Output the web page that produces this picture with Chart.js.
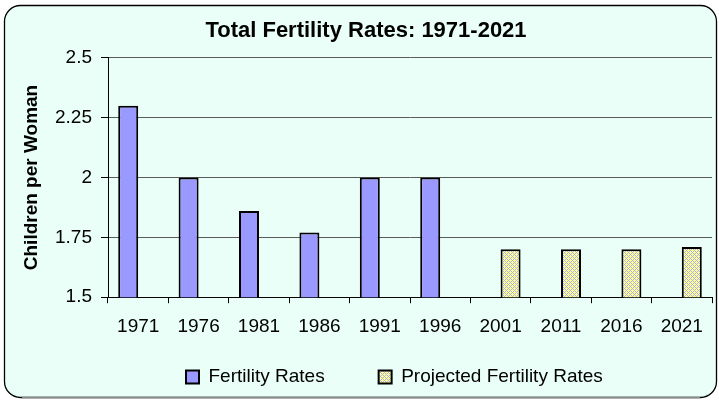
<!DOCTYPE html>
<html>
<head>
<meta charset="utf-8">
<script src="https://cdn.jsdelivr.net/npm/chart.js@4/dist/chart.umd.min.js"></script>
<style>
  html, body { margin: 0; padding: 0; background: #fff; }
  #chart { display: block; }
</style>
</head>
<body>
<canvas id="chart" width="719" height="400"></canvas>
<script>
// Chart data
const years = ['1971', '1976', '1981', '1986', '1991', '1996', '2001', '2011', '2016', '2021'];
const fertilityRates = [2.30, 2.00, 1.86, 1.77, 2.00, 2.00, null, null, null, null];
const projectedRates = [null, null, null, null, null, null, 1.70, 1.70, 1.70, 1.71];
const yTickValues = [1.5, 1.75, 2, 2.25, 2.5];

const FONT = '"Liberation Sans", Arial, sans-serif';
const LEGEND_GAP = 54;

// small yellow/lavender hatch used for the projected bars
function makeHatch(ctx) {
    const p = document.createElement('canvas');
    p.width = 4;
    p.height = 4;
    const pc = p.getContext('2d');
    pc.fillStyle = '#FFFF8C';
    pc.fillRect(0, 0, 4, 4);
    pc.fillStyle = '#AEB0F2';
    for (let x = 0; x < 4; x++) {
        for (let y = 0; y < 4; y++) {
            if ((x + y) % 4 === 0 || (x - y + 4) % 4 === 0) pc.fillRect(x, y, 1, 1);
        }
    }
    return ctx.createPattern(p, 'repeat');
}

// rounded panel behind the whole chart
const cardPlugin = {
    id: 'card',
    beforeDraw(chart) {
        const c = chart.ctx;
        c.save();
        c.fillStyle = '#ffffff';
        c.fillRect(0, 0, chart.width, chart.height);
        c.beginPath();
        c.roundRect(4.5, 5.5, 712, 392, 16);
        c.fillStyle = '#EAFFF8';
        c.fill();
        c.lineWidth = 1.3;
        c.strokeStyle = '#000';
        c.stroke();
        c.beginPath();
        c.moveTo(22, 397.5);
        c.lineTo(700, 397.5);
        c.strokeStyle = '#8a8a8a';
        c.stroke();
        c.restore();
    }
};

// move the legend row to where the original puts it
const legendPlace = {
    id: 'legendPlace',
    afterLayout(chart) {
        const lg = chart.legend;
        if (!lg || !lg.lineWidths) return;
        const x0 = (lg.left + LEGEND_GAP + lg.right - lg.lineWidths[0]) / 2;
        const dx = 186 - x0;
        lg.left += dx;
        lg.right += dx;
        lg.top = 377 - LEGEND_GAP - 9.5;
        lg.bottom = chart.height;
    }
};

const canvas = document.getElementById('chart');
const ctx = canvas.getContext('2d');
const hatch = makeHatch(ctx);

new Chart(ctx, {
    type: 'bar',
    data: {
        labels: years,
        datasets: [
            {
                label: 'Fertility Rates',
                data: fertilityRates,
                backgroundColor: '#9999FF',
                borderColor: '#000000',
                borderWidth: 2,
                borderSkipped: false
            },
            {
                label: 'Projected Fertility Rates',
                data: projectedRates,
                backgroundColor: hatch,
                borderColor: '#000000',
                borderWidth: 2,
                borderSkipped: false
            }
        ]
    },
    options: {
        responsive: false,
        animation: false,
        devicePixelRatio: 1,
        layout: {
            padding: { top: 6, left: 20, right: 7, bottom: 12 }
        },
        datasets: {
            bar: {
                categoryPercentage: 0.662,
                barPercentage: 1.0
            }
        },
        scales: {
            x: {
                offset: true,
                grid: {
                    display: true,
                    drawOnChartArea: false,
                    offset: true,
                    tickLength: 6,
                    tickColor: '#000'
                },
                border: { color: '#000', width: 1 },
                ticks: {
                    color: '#000',
                    padding: 12,
                    maxRotation: 0,
                    font: { family: FONT, size: 19 }
                }
            },
            y: {
                min: 1.5,
                max: 2.5,
                afterBuildTicks: scale => {
                    scale.ticks = yTickValues.map(v => ({ value: v }));
                },
                afterFit: scale => {
                    scale.width = 88;
                },
                grid: {
                    color: '#5a5a5a',
                    tickColor: '#000',
                    tickLength: 7
                },
                border: { color: '#000', width: 1 },
                ticks: {
                    color: '#000',
                    padding: 9,
                    font: { family: FONT, size: 19 },
                    callback: v => String(v)
                },
                title: {
                    display: true,
                    text: 'Children per Woman',
                    color: '#000',
                    padding: { top: 0, bottom: 0 },
                    font: { family: FONT, size: 19, weight: 'bold' }
                }
            }
        },
        plugins: {
            title: {
                display: true,
                text: 'Total Fertility Rates: 1971-2021',
                color: '#000',
                padding: { top: 12, bottom: 13.4 },
                font: { family: FONT, size: 22, weight: 'bold' }
            },
            legend: {
                position: 'bottom',
                maxHeight: 38,
                labels: {
                    color: '#000',
                    boxWidth: 13,
                    boxHeight: 13,
                    padding: LEGEND_GAP,
                    font: { family: FONT, size: 19 }
                }
            },
            tooltip: { enabled: false }
        }
    },
    plugins: [cardPlugin, legendPlace]
});
</script>
</body>
</html>
